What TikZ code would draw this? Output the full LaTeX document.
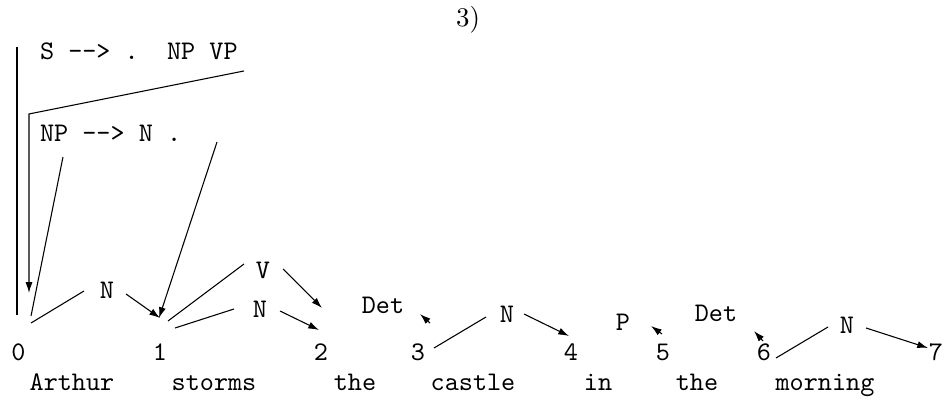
\documentclass[tikz,border=0pt]{standalone}
\usetikzlibrary{arrows.meta}
\begin{document}
\begin{tikzpicture}[x=0.372pt,y=-0.372pt,
  lbl/.style={inner sep=0pt,anchor=base,font=\ttfamily},
  lblw/.style={inner sep=0pt,anchor=base west,font=\ttfamily},
  edge/.style={line width=0.4pt},
  arr/.style={line width=0.4pt,-{Latex[length=4pt,width=2.6pt]}}]
\useasboundingbox (0,0) rectangle (948,403);
% title
\node[inner sep=0pt,anchor=base,font=\rmfamily] (title) at (468,27) {3)};
% rules
\node[lblw] (r1) at (39.5,60) {S\ -->\ .\ \ NP\ VP};
\node[lblw] (r2) at (39.5,142) {NP\ -->\ N\ .};
% positions
\node[lbl] (p0) at (18.5,361) {0};
\node[lbl] (p1) at (160,361) {1};
\node[lbl] (p2) at (321,361) {2};
\node[lbl] (p3) at (418,361) {3};
\node[lbl] (p4) at (571,361) {4};
\node[lbl] (p5) at (663,361) {5};
\node[lbl] (p6) at (764,361) {6};
\node[lbl] (p7) at (936,361) {7};
% words
\node[lbl] (w1) at (72,391) {Arthur};
\node[lbl] (w2) at (214,391) {storms};
\node[lbl] (w3) at (355,391) {the};
\node[lbl] (w4) at (473,391) {castle};
\node[lbl] (w5) at (598,391) {in};
\node[lbl] (w6) at (697,391) {the};
\node[lbl] (w7) at (825,391) {morning};
% categories
\node[lbl] (cN1) at (107,299) {N};
\node[lbl] (cV) at (263,279) {V};
\node[lbl] (cN2) at (260,318) {N};
\node[lbl] (cDet3) at (383,314) {Det};
\node[lbl] (cN4) at (507,323) {N};
\node[lbl] (cP) at (623,331) {P};
\node[lbl] (cDet6) at (716,322) {Det};
\node[lbl] (cN7) at (847,334) {N};
% connector coordinates
\coordinate (v1a) at (17,47);
\coordinate (v1b) at (17,315);
\coordinate (s1) at (244,71);
\coordinate (s2) at (29,114);
\coordinate (s3) at (29,293);
\coordinate (np1) at (63,157);
\coordinate (np2) at (31,316);
\coordinate (nd1) at (217,142);
\coordinate (nd2) at (159,318);
\coordinate (a0) at (31,323);
\coordinate (a1) at (84,291);
\coordinate (a2) at (126,294);
\coordinate (a3) at (160,318);
\coordinate (b0) at (168,321);
\coordinate (b1) at (244,264);
\coordinate (b2) at (283,269);
\coordinate (b3) at (322,308);
\coordinate (c0) at (175,328);
\coordinate (c1) at (234,309);
\coordinate (c2) at (280,311);
\coordinate (c3) at (319,330);
\coordinate (d0) at (430,323);
\coordinate (d1) at (420,314);
\coordinate (e0) at (434,348);
\coordinate (e1) at (486,317);
\coordinate (e2) at (524,314);
\coordinate (e3) at (569,336);
\coordinate (f0) at (662,334);
\coordinate (f1) at (651,326);
\coordinate (g0) at (763,341);
\coordinate (g1) at (754,331);
\coordinate (h0) at (776,358);
\coordinate (h1) at (828,327);
\coordinate (h2) at (866,328);
\coordinate (h3) at (928,348);
% connectors
\draw[edge] (v1a) -- (v1b);
\draw[arr] (s1) -- (s2) -- (s3);
\draw[edge] (np1) -- (np2);
\draw[arr] (nd1) -- (nd2);
\draw[edge] (a0) -- (a1);
\draw[arr] (a2) -- (a3);
\draw[edge] (b0) -- (b1);
\draw[arr] (b2) -- (b3);
\draw[edge] (c0) -- (c1);
\draw[arr] (c2) -- (c3);
\draw[arr] (d0) -- (d1);
\draw[edge] (e0) -- (e1);
\draw[arr] (e2) -- (e3);
\draw[arr] (f0) -- (f1);
\draw[arr] (g0) -- (g1);
\draw[edge] (h0) -- (h1);
\draw[arr] (h2) -- (h3);
\end{tikzpicture}
\end{document}
